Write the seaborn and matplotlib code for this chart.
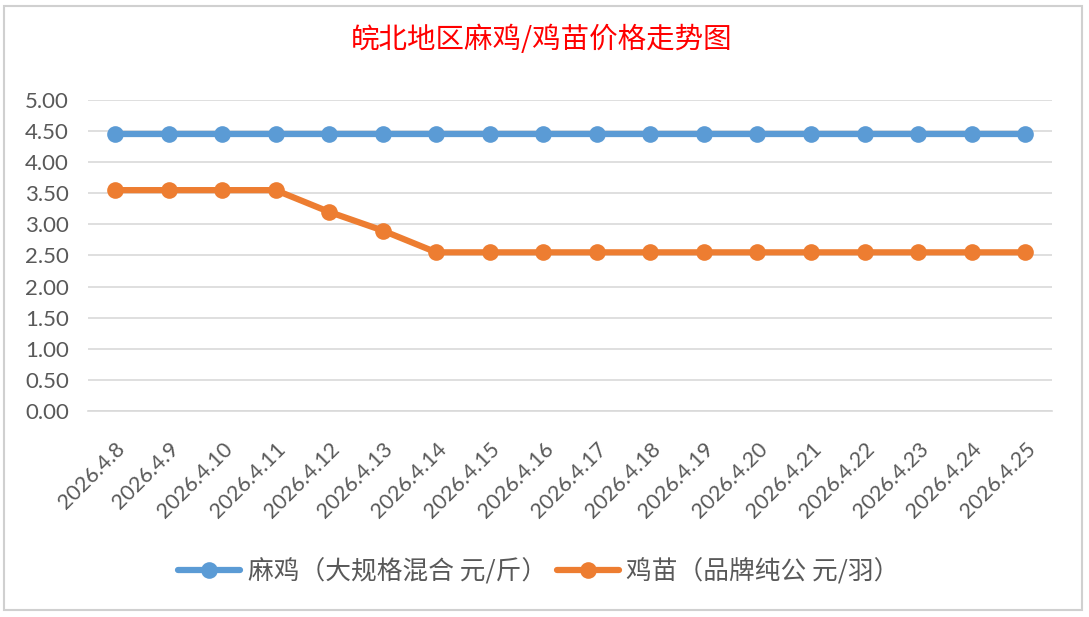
import pandas as pd
import matplotlib.pyplot as plt
import seaborn as sns
from matplotlib.patches import Rectangle

dates = ["2026.4.8", "2026.4.9", "2026.4.10", "2026.4.11", "2026.4.12", "2026.4.13",
         "2026.4.14", "2026.4.15", "2026.4.16", "2026.4.17", "2026.4.18", "2026.4.19",
         "2026.4.20", "2026.4.21", "2026.4.22", "2026.4.23", "2026.4.24", "2026.4.25"]
ma_ji = [4.45] * 18
ji_miao = [3.55, 3.55, 3.55, 3.55, 3.20, 2.90, 2.55, 2.55, 2.55, 2.55, 2.55, 2.55,
           2.55, 2.55, 2.55, 2.55, 2.55, 2.55]
series_names = ["麻鸡（大规格混合 元/斤）", "鸡苗（品牌纯公 元/羽）"]
colors = ["#5B9BD5", "#ED7D31"]


def build_frame():
    rows = []
    for name, vals in zip(series_names, [ma_ji, ji_miao]):
        for i, v in enumerate(vals):
            rows.append({"idx": i, "price": v, "series": name})
    return pd.DataFrame(rows)


def plot_data(df):
    sns.set_style("white")
    plt.rcParams['font.family'] = ['Noto Sans CJK SC', 'DejaVu Sans']
    fig = plt.figure(figsize=(10.89, 6.17), dpi=100)
    ax = fig.add_axes([0.081, 0.334, 0.885, 0.504])

    sns.lineplot(data=df, x="idx", y="price", hue="series", palette=colors,
                 marker="o", markersize=12, markeredgewidth=0, linewidth=4.5,
                 ax=ax, legend=True)

    tick_font = ['Lato', 'DejaVu Sans']
    ax.set_xlim(-0.5, len(dates) - 0.5)
    ax.set_ylim(0, 5)
    ax.set_yticks([i * 0.5 for i in range(11)])
    ax.set_yticklabels([f"{i * 0.5:.2f}" for i in range(11)], fontsize=16,
                       color="#595959", family=tick_font)
    ax.set_xticks(range(len(dates)))
    ax.set_xticklabels(dates, rotation=45, ha="right", rotation_mode="anchor",
                       fontsize=15.5, color="#595959", family=tick_font)
    ax.tick_params(axis="x", length=0, pad=20)
    ax.tick_params(axis="y", length=0, pad=14)
    ax.grid(axis="y", color="#D9D9D9", linewidth=1.2)
    ax.set_axisbelow(True)
    for s in ["top", "right", "left"]:
        ax.spines[s].set_visible(False)
    ax.spines["bottom"].set_color("#D9D9D9")
    ax.spines["bottom"].set_linewidth(1.2)
    ax.set_xlabel("")
    ax.set_ylabel("")

    handles, labels = ax.get_legend_handles_labels()
    fig.legend(handles, labels, loc="center", bbox_to_anchor=(0.495, 0.073), ncol=2,
               frameon=False, fontsize=18.5, handlelength=2.4, columnspacing=0.4,
               handletextpad=0.3, labelcolor="#595959")
    ax.get_legend().remove()

    fig.text(0.497, 0.935, "皖北地区麻鸡/鸡苗价格走势图", color="red", fontsize=20.5,
             ha="center", va="center")

    fig.patches.append(Rectangle((0.004, 0.011), 0.99, 0.98, transform=fig.transFigure,
                                 fill=False, edgecolor="#D0D0D0", linewidth=1.5))
    fig.savefig("out.png", dpi=100)


def main():
    df = build_frame()
    plot_data(df)


if __name__ == '__main__':
    main()
